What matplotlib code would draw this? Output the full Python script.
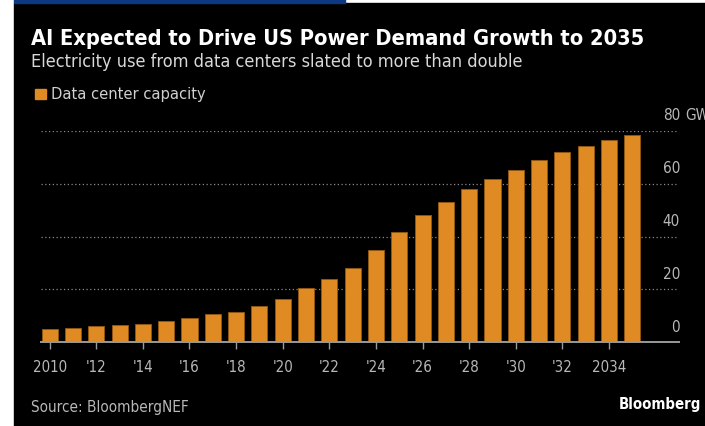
import matplotlib.pyplot as plt
from matplotlib.patches import Rectangle
import matplotlib.transforms as mtransforms

plt.rcParams['font.family'] = ['DejaVu Sans']
plt.rcParams['font.stretch'] = 'condensed'

# data (GW)
years = list(range(2010, 2036))
capacity = [5.0, 5.5, 6.0, 6.5, 7.0, 8.1, 9.2, 10.7, 11.4, 13.7, 16.3, 20.7,
            24.1, 28.0, 34.8, 41.8, 48.0, 53.0, 58.0, 61.8, 65.3, 68.8,
            71.9, 74.3, 76.5, 78.2]
xticks = list(range(2010, 2035, 2))
xlabels = ["2010", "'12", "'14", "'16", "'18", "'20", "'22", "'24", "'26",
           "'28", "'30", "'32", "2034"]
yticks = [0, 20, 40, 60, 80]

W, H = 705, 427
bar_color = "#df8a22"
grey = "#b8b8b8"

fig = plt.figure(figsize=(W / 100, H / 100), dpi=100, facecolor="white")

def px(x, y):
    # pixel coords (origin top-left) -> figure fraction
    return x / W, 1 - y / H

# background panels
fig.patches.append(Rectangle((14 / W, 0), 1, 1 - 4 / H, transform=fig.transFigure,
                             color="black", zorder=-2))
fig.patches.append(Rectangle((14 / W, 1 - 4 / H), (345 - 14) / W, 4 / H,
                             transform=fig.transFigure, color="#0b3a82", zorder=-2))

# axes: baseline at y=343.3 px, 80 line at y=131.7 px
left, right = 41, 679
ax = fig.add_axes([left / W, (H - 343.3) / H, (right - left) / W, (343.3 - 131.7) / H])
ax.set_facecolor("none")
ax.bar(years, capacity, width=0.69, color=bar_color, edgecolor="#8f5512",
       linewidth=0.7, zorder=3)
ax.set_xlim(2009.63, 2037.0)
ax.set_ylim(0, 80)

for s in ["top", "right", "left"]:
    ax.spines[s].set_visible(False)
ax.spines["bottom"].set_color("#9a9a9a")
ax.spines["bottom"].set_linewidth(1.4)
ax.spines["bottom"].set_zorder(4)

ax.set_yticks(yticks[1:])
ax.yaxis.grid(True, color="#8a8a8a", linestyle=(0, (1, 2)), linewidth=0.9)
ax.tick_params(axis="y", length=0, labelleft=False)
ax.set_axisbelow(True)

ax.set_xticks(xticks)
ax.set_xticklabels(xlabels)
ax.tick_params(axis="x", direction="out", length=5, width=1, color="#9a9a9a",
               labelcolor=grey, labelsize=10.8, pad=7)

# y labels sit above the grid lines, right aligned near the axis end
tr = mtransforms.blended_transform_factory(fig.transFigure, ax.transData)
off = mtransforms.offset_copy(tr, fig=fig, x=0, y=6, units="points")
for v in yticks:
    ax.text(680 / W, v, str(v), transform=off, ha="right", va="bottom",
            color=grey, fontsize=11)
ax.text(685 / W, yticks[-1], "GW", transform=off, ha="left", va="bottom",
        color=grey, fontsize=11, clip_on=False)

# titles and legend
fig.text(*px(31, 39), "AI Expected to Drive US Power Demand Growth to 2035",
         color="white", fontsize=15.7, fontweight="bold", va="center", ha="left")
fig.text(*px(31, 62), "Electricity use from data centers slated to more than double",
         color="#d8d8d8", fontsize=13, va="center", ha="left")
fig.patches.append(Rectangle(px(35, 100), 10.5 / W, 10.5 / H, transform=fig.transFigure,
                             color=bar_color, zorder=2))
fig.text(*px(51, 94.5), "Data center capacity", color="#d0d0d0", fontsize=11.8,
         va="center", ha="left")

fig.text(*px(31, 408), "Source: BloombergNEF", color=grey, fontsize=11,
         va="center", ha="left")
fig.text(*px(701, 405), "Bloomberg", color="white", fontsize=10.7,
         fontweight="bold", va="center", ha="right")

fig.savefig("out.png", dpi=100, facecolor="white")
